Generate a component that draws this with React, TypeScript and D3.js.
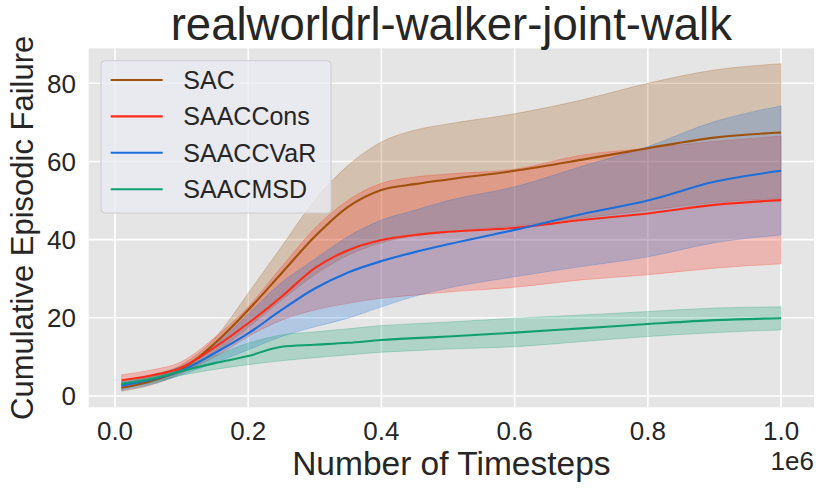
import React, { useRef, useEffect } from 'react';
import * as d3 from 'd3';

// timesteps (x1e6)
const steps = [0.01, 0.05, 0.1, 0.15, 0.2, 0.25, 0.3, 0.35, 0.4, 0.45, 0.5, 0.6, 0.7, 0.8, 0.9, 1.0];

const sacMean = [2.1, 3.6, 6.8, 13.5, 22.0, 31.4, 40.8, 48.4, 52.7, 54.2, 55.4, 57.6, 60.4, 63.4, 66.1, 67.4];
const sacUpper = [3.2, 4.8, 8.0, 14.8, 26.3, 38.2, 50.1, 59.0, 65.0, 68.0, 69.6, 72.2, 75.7, 80.0, 83.4, 85.0];
const sacLower = [1.2, 2.6, 5.8, 11.0, 17.5, 24.5, 31.0, 36.0, 39.2, 41.0, 42.0, 43.5, 45.5, 47.5, 49.5, 50.5];

const consMean = [4.0, 5.1, 7.3, 12.5, 18.6, 25.4, 32.7, 37.3, 39.9, 41.2, 42.0, 43.0, 45.0, 46.7, 48.9, 50.1];
const consUpper = [5.4, 6.5, 8.8, 15.0, 22.8, 33.0, 42.9, 50.1, 54.4, 56.0, 56.8, 58.0, 61.6, 63.4, 65.1, 66.5];
const consLower = [2.4, 3.7, 6.0, 10.0, 15.2, 19.4, 22.0, 23.7, 25.0, 25.8, 26.6, 27.8, 29.7, 31.0, 32.7, 33.8];

const cvarMean = [2.7, 4.0, 6.5, 11.0, 16.0, 22.0, 27.5, 31.6, 34.5, 36.8, 38.8, 42.5, 46.5, 50.0, 54.8, 57.6];
const cvarUpper = [3.6, 5.0, 7.6, 13.0, 21.0, 29.0, 35.0, 40.8, 45.0, 47.5, 50.0, 53.5, 58.7, 63.8, 70.2, 74.2];
const cvarLower = [1.5, 2.8, 5.4, 8.5, 11.8, 15.2, 17.7, 19.9, 22.8, 25.5, 27.6, 30.5, 33.1, 35.6, 39.2, 41.2];

const msdMean = [3.1, 4.2, 6.4, 8.4, 10.2, 12.6, 13.1, 13.6, 14.3, 14.8, 15.2, 16.2, 17.3, 18.4, 19.4, 19.9];
const msdUpper = [3.9, 5.2, 7.5, 10.3, 13.5, 15.6, 16.4, 17.2, 18.0, 18.5, 18.9, 19.9, 20.7, 21.6, 22.5, 22.8];
const msdLower = [2.1, 3.2, 5.3, 6.8, 8.0, 9.0, 9.8, 10.5, 11.2, 11.6, 12.0, 12.6, 13.9, 15.2, 16.2, 16.9];

const seriesNames = ['SAC', 'SAACCons', 'SAACCVaR', 'SAACMSD'];
const seriesColors = ['#a0520c', '#ff2b17', '#1b6fdc', '#10a070'];

const xTicks = [0, 0.2, 0.4, 0.6, 0.8, 1.0];
const yTicks = [0, 20, 40, 60, 80];

const FONT = "'Liberation Sans', Arial, sans-serif";
const TEXT = '#262626';

interface Row { x: number; m: number; lo: number; hi: number; }

const App: React.FC = () => {
  const svgRef = useRef<SVGSVGElement>(null);

  useEffect(() => {
    const svg = d3.select(svgRef.current);
    svg.selectAll('*').remove();

    const left = 88.7, right = 814, top = 48.3, bottom = 407.3;

    const xScale = d3.scaleLinear().domain([-0.0395e6, 1.0495e6]).range([left, right]);
    const yScale = d3.scaleLinear().domain([-2.9, 88.95]).range([bottom, top]);

    // background
    svg.append('rect')
      .attr('x', left).attr('y', top)
      .attr('width', right - left).attr('height', bottom - top)
      .attr('fill', '#e5e5e5');

    // grid
    svg.append('g').selectAll('line')
      .data(xTicks).enter().append('line')
      .attr('x1', d => xScale(d * 1e6)).attr('x2', d => xScale(d * 1e6))
      .attr('y1', top).attr('y2', bottom)
      .attr('stroke', 'white').attr('stroke-width', 1.6);

    svg.append('g').selectAll('line')
      .data(yTicks).enter().append('line')
      .attr('x1', left).attr('x2', right)
      .attr('y1', d => yScale(d)).attr('y2', d => yScale(d))
      .attr('stroke', 'white').attr('stroke-width', 1.6);

    const all = [
      [sacMean, sacLower, sacUpper],
      [consMean, consLower, consUpper],
      [cvarMean, cvarLower, cvarUpper],
      [msdMean, msdLower, msdUpper],
    ];
    const rowsOf = (i: number): Row[] =>
      steps.map((s, j) => ({ x: s * 1e6, m: all[i][0][j], lo: all[i][1][j], hi: all[i][2][j] }));

    const line = d3.line<Row>()
      .x(d => xScale(d.x))
      .y(d => yScale(d.m))
      .curve(d3.curveMonotoneX);

    const area = d3.area<Row>()
      .x(d => xScale(d.x))
      .y0(d => yScale(d.lo))
      .y1(d => yScale(d.hi))
      .curve(d3.curveMonotoneX);

    // bands
    all.forEach((_, i) => {
      svg.append('path')
        .datum(rowsOf(i))
        .attr('fill', seriesColors[i])
        .attr('fill-opacity', 0.25)
        .attr('stroke', seriesColors[i])
        .attr('stroke-opacity', 0.25)
        .attr('stroke-width', 1)
        .attr('d', area);
    });

    // mean lines on top
    all.forEach((_, i) => {
      svg.append('path')
        .datum(rowsOf(i))
        .attr('fill', 'none')
        .attr('stroke', seriesColors[i])
        .attr('stroke-width', 2.1)
        .attr('d', line);
    });

    // tick labels
    svg.append('g').selectAll('text')
      .data(xTicks).enter().append('text')
      .attr('x', d => xScale(d * 1e6))
      .attr('y', 440)
      .attr('text-anchor', 'middle')
      .style('font-family', FONT)
      .style('font-size', '26px')
      .style('fill', TEXT)
      .text(d => d.toFixed(1));

    svg.append('g').selectAll('text')
      .data(yTicks).enter().append('text')
      .attr('x', 76)
      .attr('y', d => yScale(d))
      .attr('dy', '0.36em')
      .attr('text-anchor', 'end')
      .style('font-family', FONT)
      .style('font-size', '26px')
      .style('fill', TEXT)
      .text(d => String(d));

    svg.append('text')
      .attr('x', right)
      .attr('y', 470)
      .attr('text-anchor', 'end')
      .style('font-family', FONT)
      .style('font-size', '26px')
      .style('fill', TEXT)
      .text('1e6');

    // axis labels
    svg.append('text')
      .attr('x', (left + right) / 2)
      .attr('y', 475)
      .attr('text-anchor', 'middle')
      .style('font-family', FONT)
      .style('font-size', '33.5px')
      .style('fill', TEXT)
      .text('Number of Timesteps');

    svg.append('text')
      .attr('transform', `translate(33, ${(top + bottom) / 2}) rotate(-90)`)
      .attr('text-anchor', 'middle')
      .style('font-family', FONT)
      .style('font-size', '31px')
      .style('fill', TEXT)
      .text('Cumulative Episodic Failure');

    // title
    svg.append('text')
      .attr('x', (left + right) / 2)
      .attr('y', 40)
      .attr('text-anchor', 'middle')
      .style('font-family', FONT)
      .style('font-size', '45.5px')
      .style('fill', TEXT)
      .text('realworldrl-walker-joint-walk');

    // legend
    const legend = svg.append('g');
    legend.append('rect')
      .attr('x', 101).attr('y', 60.7)
      .attr('width', 230).attr('height', 152.3)
      .attr('rx', 4)
      .attr('fill', '#eaeaf2').attr('fill-opacity', 0.8)
      .attr('stroke', '#cccccc').attr('stroke-width', 1);

    seriesNames.forEach((name, i) => {
      const y = 80 + i * 36.4;
      legend.append('line')
        .attr('x1', 110.7).attr('x2', 162.7)
        .attr('y1', y).attr('y2', y)
        .attr('stroke', seriesColors[i]).attr('stroke-width', 2.1);
      legend.append('text')
        .attr('x', 183.3).attr('y', y)
        .attr('dy', '0.36em')
        .style('font-family', FONT)
        .style('font-size', '25px')
        .style('fill', TEXT)
        .text(name);
    });
  }, []);

  return (
    <svg
      ref={svgRef}
      width={830}
      height={491}
      style={{ position: 'absolute', left: 0, top: 0, background: 'white' }}
    />
  );
};

export default App;
